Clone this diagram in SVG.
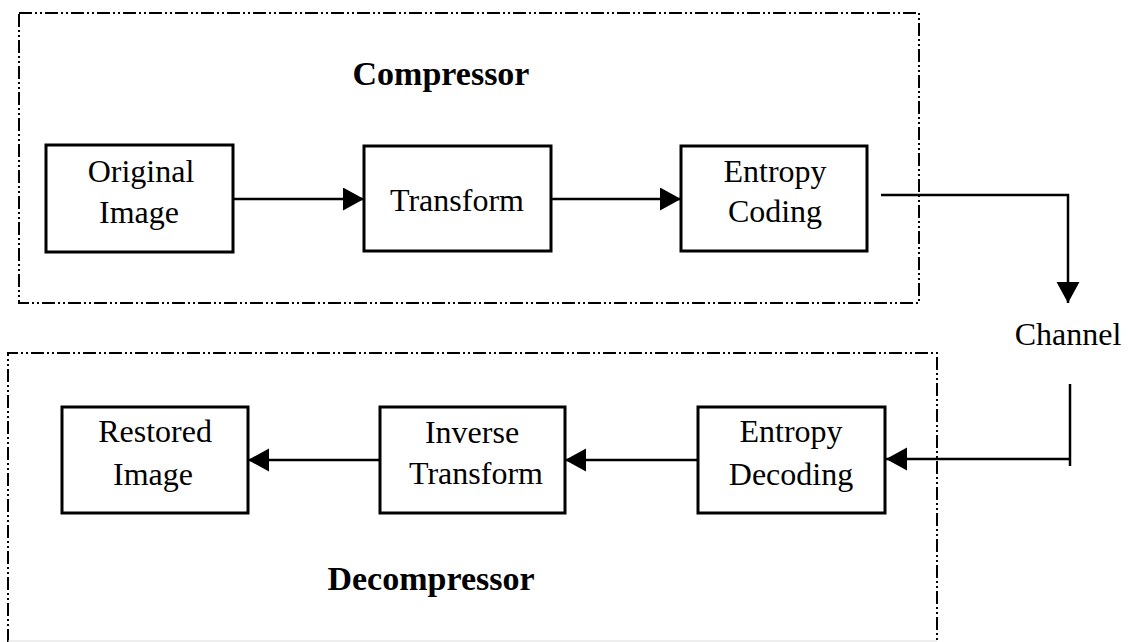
<svg xmlns="http://www.w3.org/2000/svg" width="1128" height="642" viewBox="0 0 1128 642">
<style>
.frame{fill:none;stroke:#000;stroke-width:2;stroke-dasharray:13 3 2 3 2 3}
.box{fill:#fff;stroke:#000;stroke-width:3}
.lbl{font-family:"Liberation Serif","Times New Roman",serif;font-size:32px;fill:#000;text-anchor:middle}
.title{font-family:"Liberation Serif","Times New Roman",serif;font-size:34px;font-weight:bold;fill:#000;text-anchor:middle}
.conn{fill:none;stroke:#000;stroke-width:2.5}
</style>
<defs>
<marker id="ah" markerUnits="userSpaceOnUse" markerWidth="22" markerHeight="24" refX="21" refY="11.5" orient="auto">
<path d="M0,0 L21,11.5 L0,23 Z" fill="#000"/>
</marker>
</defs>
<rect x="0" y="0" width="1128" height="642" fill="#fff"/>
<g id="compressor-frame">
<rect class="frame" x="19" y="13" width="900" height="290"/>
<text class="title" x="441" y="85">Compressor</text>
</g>
<g id="decompressor-frame">
<path class="frame" d="M8,642 V353 H937 V642"/>
<line x1="8" y1="641" x2="937" y2="641" stroke="#ddd" stroke-width="1"/>
<text class="title" x="431" y="590">Decompressor</text>
</g>
<g id="original-image">
<rect class="box" x="46" y="145" width="187" height="107"/>
<text class="lbl" x="141" y="182">Original</text>
<text class="lbl" x="139" y="223">Image</text>
</g>
<g id="transform">
<rect class="box" x="364" y="146" width="187" height="105"/>
<text class="lbl" x="457" y="211">Transform</text>
</g>
<g id="entropy-coding">
<rect class="box" x="681" y="146" width="186" height="105"/>
<text class="lbl" x="775" y="182">Entropy</text>
<text class="lbl" x="775" y="222">Coding</text>
</g>
<g id="channel">
<text class="lbl" x="1068" y="345">Channel</text>
</g>
<g id="entropy-decoding">
<rect class="box" x="698" y="407" width="187" height="106"/>
<text class="lbl" x="791" y="442">Entropy</text>
<text class="lbl" x="791" y="485">Decoding</text>
</g>
<g id="inverse-transform">
<rect class="box" x="380" y="407" width="185" height="106"/>
<text class="lbl" x="472" y="443">Inverse</text>
<text class="lbl" x="476" y="484">Transform</text>
</g>
<g id="restored-image">
<rect class="box" x="62" y="407" width="186" height="106"/>
<text class="lbl" x="155" y="442">Restored</text>
<text class="lbl" x="153" y="485">Image</text>
</g>
<g id="connectors">
<path class="conn" d="M233,199 H364" marker-end="url(#ah)"/>
<path class="conn" d="M551,199 H681" marker-end="url(#ah)"/>
<path class="conn" d="M881,195 H1068 V303" marker-end="url(#ah)"/>
<path class="conn" d="M1070,384 V466"/>
<path class="conn" d="M1070,459 H886" marker-end="url(#ah)"/>
<path class="conn" d="M698,460 H565" marker-end="url(#ah)"/>
<path class="conn" d="M380,460 H248" marker-end="url(#ah)"/>
</g>
</svg>
